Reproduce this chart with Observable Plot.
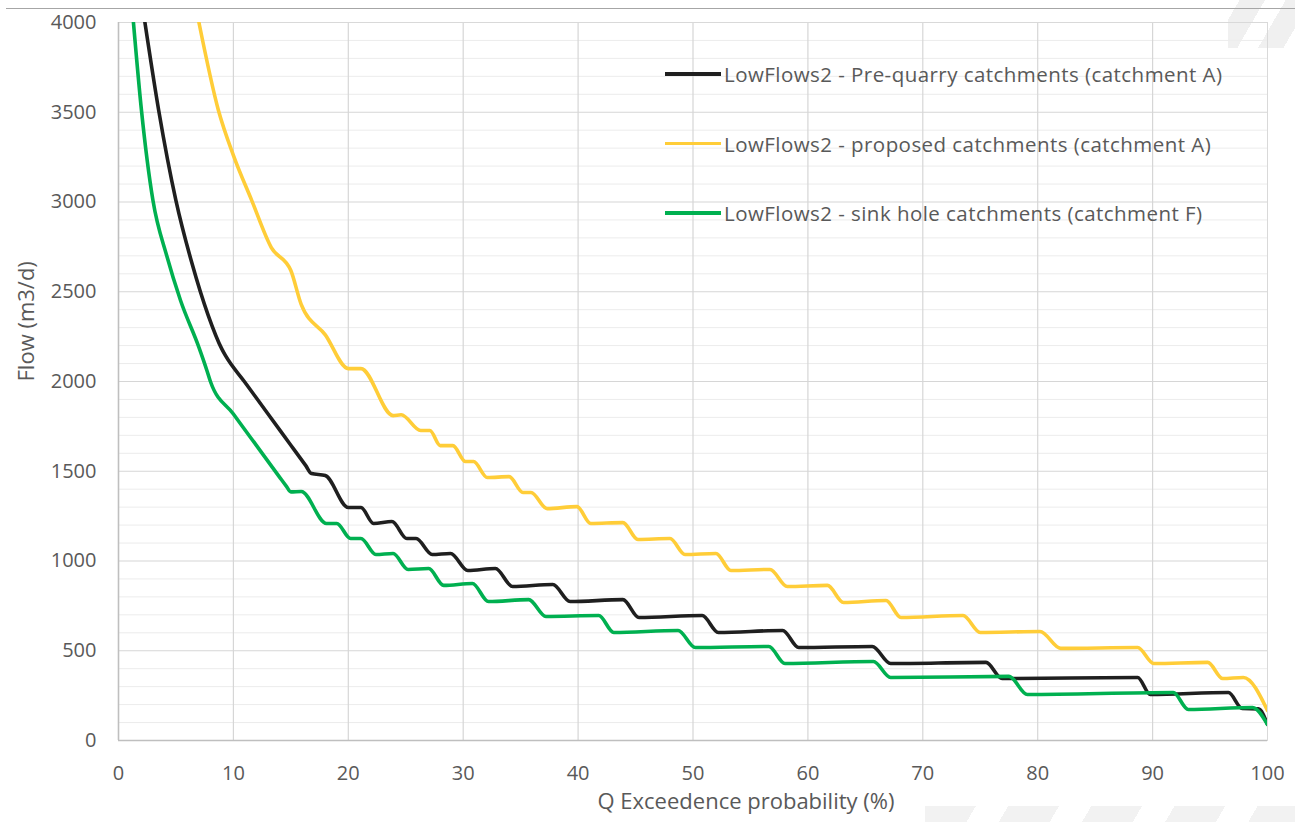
<!DOCTYPE html>
<html><head><meta charset="utf-8">
<script src="https://cdn.jsdelivr.net/npm/d3@7"></script>
<script src="https://cdn.jsdelivr.net/npm/@observablehq/plot@0.6"></script>
<style>
html,body{margin:0;padding:0;background:#fff;}
#wrap{position:relative;width:1295px;height:822px;overflow:hidden;font-family:"Open Sans",sans-serif;color:#595959;}
#chart{position:absolute;left:0;top:0;z-index:1;}
#topline{position:absolute;left:6px;right:0;top:8px;height:0;border-top:1.5px solid #a6a6a6;z-index:2;}
#legend{position:absolute;left:0;top:0;z-index:2;}
.deco1{position:absolute;left:925px;top:806px;width:370px;height:16px;z-index:0;
  background:repeating-linear-gradient(120deg,#f2f2f2 0 44px,rgba(255,255,255,0) 44px 72px);}
.deco2{position:absolute;left:1228px;top:0;width:67px;height:48px;z-index:0;
  background:repeating-linear-gradient(120deg,rgba(255,255,255,0) 0 10px,#f0f0f0 10px 32px,rgba(255,255,255,0) 32px 40px);}
.lg{position:absolute;left:665px;height:30px;display:flex;align-items:center;white-space:nowrap;font-size:20.5px;letter-spacing:0.45px;}
.sw{width:56px;height:3.5px;margin-right:3px;}
</style></head><body>
<div id="wrap"><div class="deco1"></div><div class="deco2"></div><div id="chart"></div><div id="topline"></div><div id="legend"></div></div>
<script>
const xTicks = [0,10,20,30,40,50,60,70,80,90,100];
const yTicks = [0,500,1000,1500,2000,2500,3000,3500,4000];
const xLabel = "Q Exceedence probability (%)";
const yLabel = "Flow (m3/d)";
const seriesNames = [
  "LowFlows2 - Pre-quarry catchments (catchment A)",
  "LowFlows2 - proposed catchments (catchment A)",
  "LowFlows2 - sink hole catchments (catchment F)"
];
const seriesColors = ["#1f1f1f", "#ffcd38", "#00b050"];

// [exceedence %, flow m3/d]
const preQuarry = [
  [2.3,4000],[3.5,3510],[5.0,3008],[6.4,2657],[7.8,2370],[9.0,2180],[9.3,2145],
  [11.0,1996],[13.0,1820],[15.0,1645],[16.3,1531],[16.8,1487],[18.0,1476],
  [20.0,1298],[21.1,1298],[22.2,1209],[23.8,1220],
  [25.1,1125],[25.9,1125],[27.3,1036],[28.9,1042],[30.4,947],[32.8,958],
  [34.3,858],[37.8,869],[39.3,774],[43.9,785],[45.3,685],[50.8,696],
  [52.2,602],[57.8,613],[59.2,518],[65.6,524],[67.2,429],[75.5,435],
  [76.9,345],[88.7,351],[89.8,256],[96.6,267],[97.8,178],[99.2,176],[100,90]
];
const proposed = [
  [7.0,4000],[8.7,3510],[10.0,3260],[11.6,3008],[13.3,2746],[15.0,2618],
  [15.9,2430],[18.0,2260],[20.0,2072],[21.1,2072],[23.9,1810],[24.6,1815],
  [26.3,1727],[27.1,1727],[28.0,1643],[29.1,1643],[30.2,1554],[30.9,1554],
  [32.1,1465],[34.0,1470],[35.2,1382],[35.9,1382],[37.3,1292],[39.9,1303],
  [41.1,1209],[43.9,1214],[45.2,1120],[48.0,1125],[49.3,1036],[52.0,1042],
  [53.3,947],[56.7,953],[58.2,858],[61.7,864],[63.1,769],[66.8,780],
  [68.1,685],[73.5,696],[75.0,602],[80.2,607],[82.0,513],[88.7,518],
  [90.1,429],[94.8,435],[96.1,345],[97.9,351],[100,167]
];
const sinkHole = [
  [1.3,4000],[2.0,3510],[3.0,3008],[4.2,2700],[5.4,2451],[7.0,2190],[7.7,2060],[8.0,2000],
  [10.0,1819],[12.0,1644],[14.0,1469],[14.6,1417],[15.0,1385],[15.9,1387],
  [18.1,1209],[19.0,1209],[20.2,1125],[21.1,1125],
  [22.4,1036],[23.9,1042],[25.2,953],[27.0,958],[28.3,864],[30.8,875],
  [32.2,774],[35.7,785],[37.2,691],[41.8,696],[43.1,602],[48.7,613],
  [50.2,518],[56.6,524],[58.0,429],[65.7,440],[67.2,351],[77.5,357],
  [79.1,256],[91.8,267],[93.1,173],[98.7,184],[100,89]
];
const seriesData = [preQuarry, proposed, sinkHole];

const minorY = d3.range(100, 4000, 100).filter(v => v % 500 !== 0);

const lineMarks = seriesData.map((pts, i) => Plot.line(pts, {
  x: d => d[0], y: d => d[1], stroke: seriesColors[i], strokeWidth: 3.6,
  curve: "monotone-x", clip: true, strokeLinejoin: "round", strokeLinecap: "round"
}));

const chart = Plot.plot({
  width: 1295, height: 822,
  marginLeft: 118, marginRight: 28, marginTop: 22, marginBottom: 82,
  style: {fontFamily: "Open Sans", fontSize: "20px", color: "#595959", background: "transparent", overflow: "visible"},
  x: {domain: [0, 100]},
  y: {domain: [0, 4000]},
  marks: [
    Plot.ruleY(minorY, {stroke: "#ececec", strokeWidth: 1}),
    Plot.ruleY(yTicks.filter(d => d > 0), {stroke: "#d6d6d6", strokeWidth: 1.2}),
    Plot.ruleX(xTicks.filter(d => d > 0 && d < 100), {stroke: "#d6d6d6", strokeWidth: 1.2}),
    Plot.frame({stroke: "#d9d9d9"}),
    Plot.ruleX([0], {stroke: "#bfbfbf", strokeWidth: 1.6}),
    Plot.ruleY([0], {stroke: "#bfbfbf", strokeWidth: 1.6}),
    Plot.axisX({ticks: xTicks, tickSize: 0, tickPadding: 25, label: null, fontSize: 20, tickFormat: d => String(d)}),
    Plot.axisY({ticks: yTicks, tickSize: 0, tickPadding: 22, label: null, fontSize: 20, tickFormat: d => String(d)}),
    ...lineMarks,
    Plot.text([xLabel], {text: d => d, frameAnchor: "bottom", dx: 53, dy: 68, fontSize: 22, style: "letter-spacing:0.8px"}),
    Plot.text([yLabel], {text: d => d, frameAnchor: "left", dx: -92, rotate: -90, fontSize: 22})
  ]
});
document.getElementById("chart").appendChild(chart);

const legend = document.getElementById("legend");
const legendCenters = [74, 143.5, 213];
seriesNames.forEach((name, i) => {
  const row = document.createElement("div");
  row.className = "lg";
  row.style.top = (legendCenters[i] - 15) + "px";
  const sw = document.createElement("div");
  sw.className = "sw";
  sw.style.background = seriesColors[i];
  const t = document.createElement("span");
  t.textContent = name;
  row.appendChild(sw); row.appendChild(t);
  legend.appendChild(row);
});
</script>
</body></html>
